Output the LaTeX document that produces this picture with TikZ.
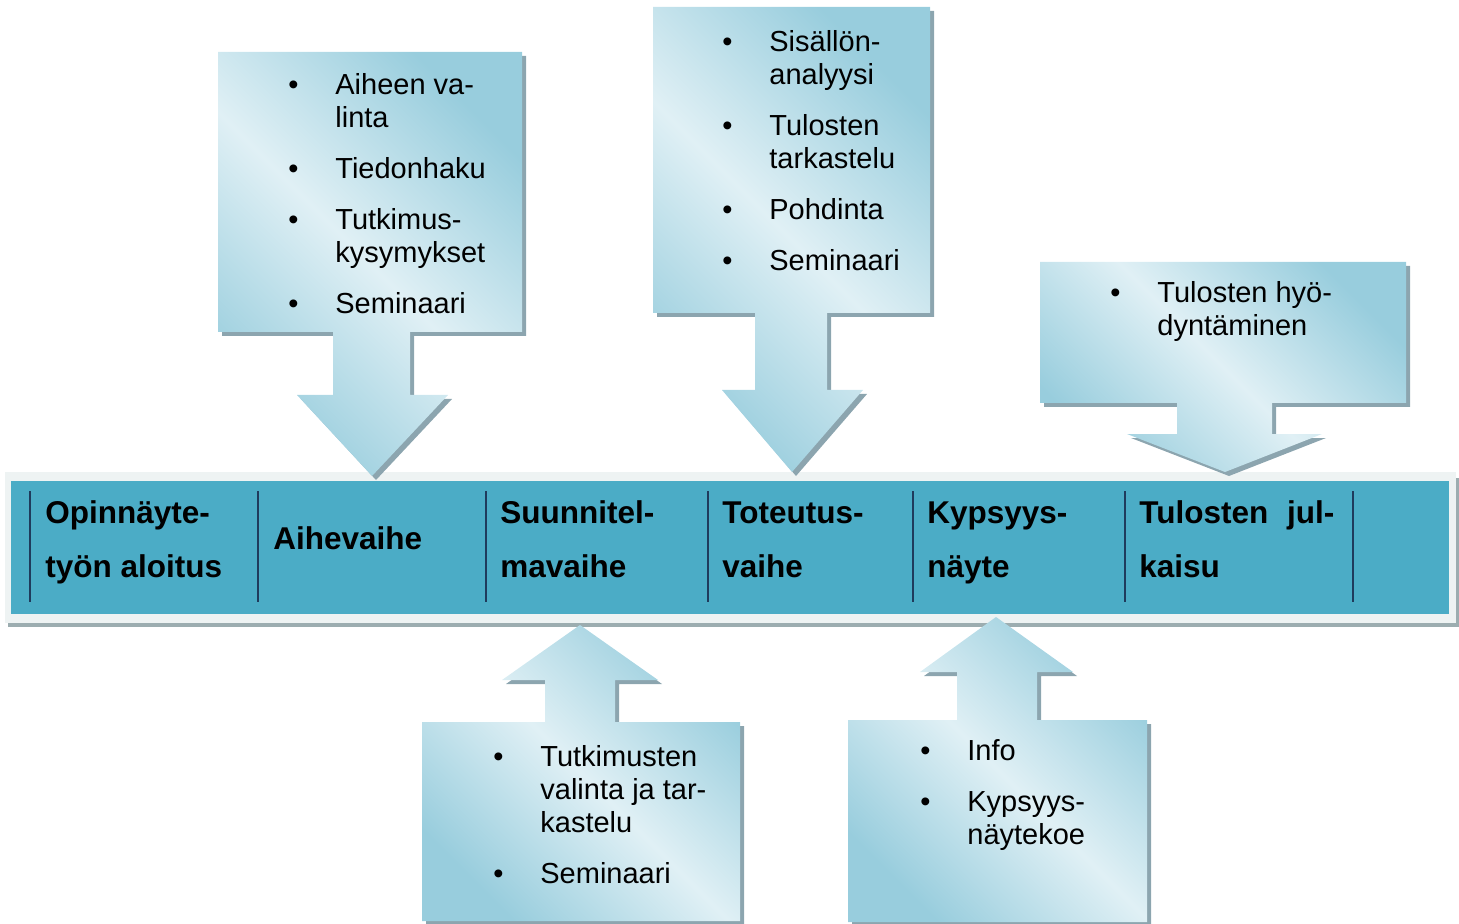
\documentclass[tikz,border=0pt]{standalone}
\usepackage{fontspec}
\setmainfont{Liberation Sans}
\usepackage{xcolor}
\usepackage{tikz}
\usetikzlibrary{shadows}

\definecolor{barteal}{HTML}{4BACC6}
\definecolor{barframe}{HTML}{EEF3F3}
\definecolor{barshadow}{HTML}{9CADB0}
\definecolor{sepnavy}{HTML}{1F3B5C}
\definecolor{calloutlight}{HTML}{E0F0F5}
\definecolor{calloutdark}{HTML}{98CDDD}
\definecolor{calloutshadow}{HTML}{8CA5AF}

\newcommand{\bul}{\llap{\textbullet\hspace{18.5pt}}}

\begin{document}
\begin{tikzpicture}[x=0.5pt,y=-0.5pt,
                    callout/.style={left color=calloutdark,right color=calloutdark,middle color=calloutlight,
                    shading angle=-45,
                    drop shadow={shadow xshift=2pt,shadow yshift=-2pt,fill=calloutshadow,opacity=1}},
                    phase/.style={anchor=base west,align=left,inner sep=0pt,
                    font=\fontsize{15.75}{27}\selectfont\bfseries},
                    items/.style={anchor=base west,align=left,inner sep=0pt,
                    font=\fontsize{14.5}{16.5}\selectfont}]

\useasboundingbox (0,0) rectangle (1459,924);

\fill[barshadow] (8,478) rectangle (1459,627);
\fill[barframe] (5,472) rectangle (1456,623);
\fill[barteal] (11,481) rectangle (1449,614);
\foreach \sx in {30,258,486,708,913,1125,1353}
    \draw[sepnavy,line width=1pt] (\sx,491) -- (\sx,602);

\node[phase] (aloitus) at (45,577) {Opinnäyte-\\työn aloitus};
\node[phase] (aihe) at (273,549) {Aihevaihe};
\node[phase] (suunnitelma) at (500,577) {Suunnitel-\\mavaihe};
\node[phase] (toteutus) at (722,577) {Toteutus-\\vaihe};
\node[phase] (kypsyys) at (927,577) {Kypsyys-\\näyte};
\node[phase] (julkaisu) at (1139,577) {Tulosten\hspace{0.6em}jul-\\kaisu};

\shade[callout] (218,52) -- (522,52) -- (522,332) -- (410,332) -- (410,395) -- (448,395)
    -- (372,476) -- (297,395) -- (333,395) -- (333,332) -- (218,332) -- cycle;
\shade[callout] (653,7) -- (930,7) -- (930,313) -- (827,313) -- (827,390) -- (863,390)
    -- (792,472) -- (722,390) -- (755,390) -- (755,313) -- (653,313) -- cycle;
\shade[callout] (1040,262) -- (1406,262) -- (1406,403) -- (1272,403) -- (1272,434) -- (1322,434)
    -- (1225,472) -- (1127,434) -- (1177,434) -- (1177,403) -- (1040,403) -- cycle;
\shade[callout] (422,921) -- (740,921) -- (740,722) -- (615,722) -- (615,680) -- (658,680)
    -- (580,625) -- (502,680) -- (545,680) -- (545,722) -- (422,722) -- cycle;
\shade[callout] (848,922) -- (1147,922) -- (1147,720) -- (1037,720) -- (1037,672) -- (1073,672)
    -- (996,617) -- (920,672) -- (957,672) -- (957,720) -- (848,720) -- cycle;

\node[items] (aihetxt) at (335,314) {\bul Aiheen va-\\linta\\[9pt]
    \bul Tiedonhaku\\[9pt]\bul Tutkimus-\\kysymykset\\[9pt]\bul Seminaari};
\node[items] (toteutustxt) at (769,271) {\bul Sisällön-\\analyysi\\[9pt]
    \bul Tulosten\\tarkastelu\\[9pt]\bul Pohdinta\\[9pt]\bul Seminaari};
\node[items] (julkaisutxt) at (1157,336) {\bul Tulosten hyö-\\dyntäminen};
\node[items] (suunnitelmatxt) at (540,883) {\bul Tutkimusten\\valinta ja tar-\\kastelu\\[9pt]
    \bul Seminaari};
\node[items] (kypsyystxt) at (967,844) {\bul Info\\[9pt]\bul Kypsyys-\\näytekoe};

\end{tikzpicture}
\end{document}
